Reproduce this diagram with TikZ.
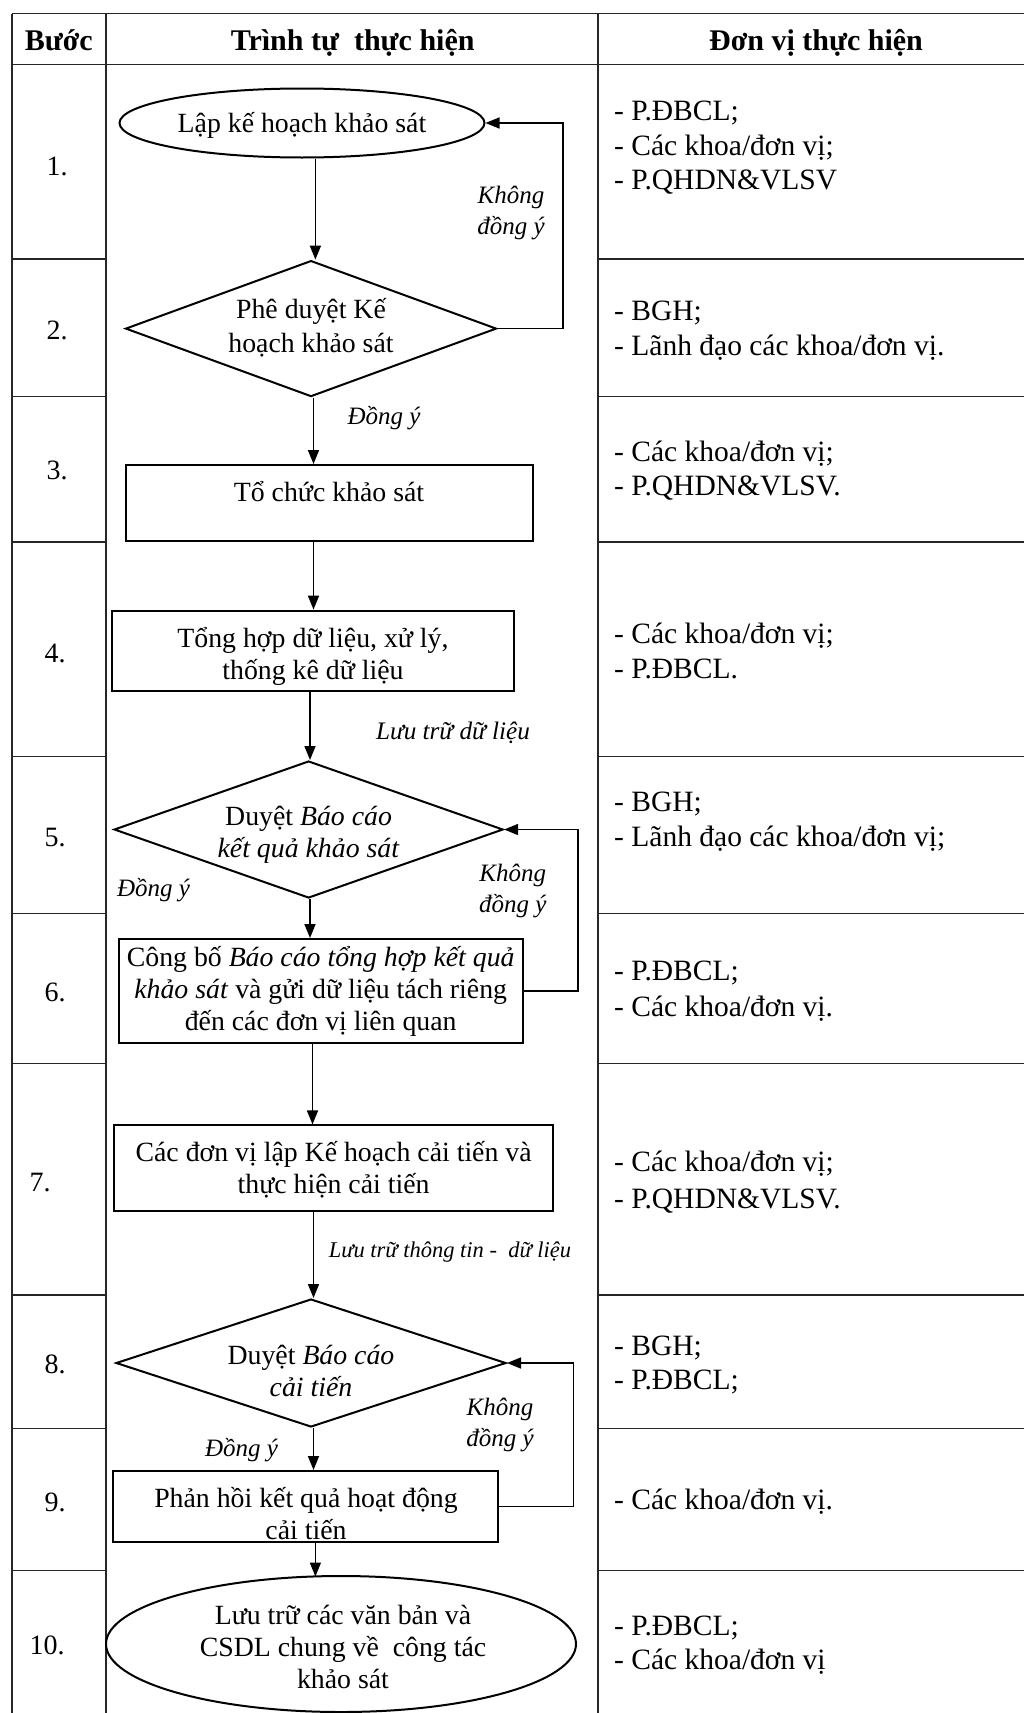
\documentclass[tikz,border=0pt]{standalone}
\usepackage{fontspec}
\setmainfont{Liberation Serif}
\usetikzlibrary{shapes.geometric,arrows.meta}
\begin{document}
\begin{tikzpicture}[x=1pt,y=-1pt,
  tbl/.style={line width=1.8pt,draw=black!85},
  shp/.style={draw,line width=2pt,inner sep=0pt},
  ell/.style={shp,ellipse},
  dia/.style={shp,diamond},
  box/.style={shp,rectangle},
  arr/.style={line width=1.6pt,-{Triangle[length=14pt,width=11pt]}},
  txt/.style={inner sep=0pt,align=center,font=\fontsize{27.8}{32}\selectfont},
  lbl/.style={inner sep=0pt,align=center,font=\fontsize{25}{31}\selectfont\itshape},
  col/.style={inner sep=0pt,anchor=base west,font=\fontsize{29.5}{32}\selectfont},
  num/.style={inner sep=0pt,anchor=base,font=\fontsize{28}{32}\selectfont},
  hdr/.style={inner sep=0pt,anchor=base,font=\fontsize{30}{32}\selectfont\bfseries}
]
\useasboundingbox (0,0) rectangle (1024,1713);
\fill[white] (0,0) rectangle (1024,1713);

% ---------- table ----------
\draw[tbl] (11.8,13.5) -- (1024,13.5);
\draw[tbl] (11.8,64.5) -- (1024,64.5);
\draw[tbl] (11.8,13.5) -- (11.8,1713);
\draw[tbl] (106,13.5) -- (106,1713);
\draw[tbl] (598,13.5) -- (598,1713);
\foreach \yy in {259,396.5,542,756.5,913.5,1063.5,1295,1428.5,1570.5}{
  \draw[tbl] (11.8,\yy) -- (106,\yy);
  \draw[tbl] (598,\yy) -- (1024,\yy);
}

% ---------- headers ----------
\node[hdr] (h1) at (58.8,50) {Bước};
\node[hdr] (h2) at (352.7,50) {Trình tự\ \ thực hiện};
\node[hdr] (h3) at (816,50) {Đơn vị thực hiện};

% ---------- step numbers ----------
\node[num] (n1) at (57,175) {1.};
\node[num] (n2) at (57,339) {2.};
\node[num] (n3) at (57,479) {3.};
\node[num] (n4) at (55,662) {4.};
\node[num] (n5) at (55,846) {5.};
\node[num] (n6) at (55,1001) {6.};
\node[num] (n7) at (40,1191) {7.};
\node[num] (n8) at (55,1373) {8.};
\node[num] (n9) at (55,1511) {9.};
\node[num] (n10) at (47,1654) {10.};

% ---------- responsible units ----------
\node[col] (c1a) at (614,120) {- P.ĐBCL;};
\node[col] (c1b) at (614,155) {- Các khoa/đơn vị;};
\node[col] (c1c) at (614,189) {- P.QHDN\&VLSV};
\node[col] (c2a) at (614,320) {- BGH;};
\node[col] (c2b) at (614,355) {- Lãnh đạo các khoa/đơn vị.};
\node[col] (c3a) at (614,461) {- Các khoa/đơn vị;};
\node[col] (c3b) at (614,495) {- P.QHDN\&VLSV.};
\node[col] (c4a) at (614,643) {- Các khoa/đơn vị;};
\node[col] (c4b) at (614,678) {- P.ĐBCL.};
\node[col] (c5a) at (614,811) {- BGH;};
\node[col] (c5b) at (614,846) {- Lãnh đạo các khoa/đơn vị;};
\node[col] (c6a) at (614,980) {- P.ĐBCL;};
\node[col] (c6b) at (614,1016) {- Các khoa/đơn vị.};
\node[col] (c7a) at (614,1171) {- Các khoa/đơn vị;};
\node[col] (c7b) at (614,1208) {- P.QHDN\&VLSV.};
\node[col] (c8a) at (614,1355) {- BGH;};
\node[col] (c8b) at (614,1389) {- P.ĐBCL;};
\node[col] (c9a) at (614,1509) {- Các khoa/đơn vị.};
\node[col] (c10a) at (614,1635) {- P.ĐBCL;};
\node[col] (c10b) at (614,1669) {- Các khoa/đơn vị};

% ---------- flow shapes ----------
\node[ell,minimum width=365pt,minimum height=69pt] (e1) at (302,123) {};
\node[txt] (t1) at (302,125) {Lập kế hoạch khảo sát};

\node[dia,minimum width=371pt,minimum height=136pt] (d2) at (311,328.6) {};
\node[txt,font=\fontsize{27.8}{34}\selectfont] (t2) at (311,328) {Phê duyệt Kế\\hoạch khảo sát};

\node[box,minimum width=407pt,minimum height=76pt] (r3) at (329,503) {};
\node[txt] (t3) at (329,492) {Tổ chức khảo sát};

\node[box,minimum width=402pt,minimum height=80pt] (r4) at (313,650.6) {};
\node[txt] (t4) at (313,656) {Tổng hợp dữ liệu, xử lý,\\thống kê dữ liệu};

\node[dia,minimum width=389pt,minimum height=137pt] (d5) at (308.6,829.5) {};
\node[txt] (t5) at (308.6,835) {Duyệt \textit{Báo cáo}\\\textit{kết quả khảo sát}};

\node[box,minimum width=403.6pt,minimum height=104pt] (r6) at (320.7,991) {};
\node[txt] (t6) at (320.7,991.5) {Công bố \textit{Báo cáo tổng hợp kết quả}\\\textit{khảo sát} và gửi dữ liệu tách riêng\\đến các đơn vị liên quan};

\node[box,minimum width=438.7pt,minimum height=85.5pt] (r7) at (333.6,1168.2) {};
\node[txt] (t7) at (333.6,1169.5) {Các đơn vị lập Kế hoạch cải tiến và\\thực hiện cải tiến};

\node[dia,minimum width=390pt,minimum height=128pt] (d8) at (311,1363) {};
\node[txt] (t8) at (311,1371) {Duyệt \textit{Báo cáo}\\\textit{cải tiến}};

\node[box,minimum width=384.6pt,minimum height=71pt] (r9) at (305.3,1506.5) {};
\node[txt] (t9) at (306,1514) {Phản hồi kết quả hoạt động\\cải tiến};

\node[ell,minimum width=470pt,minimum height=136pt] (e10) at (341,1644) {};
\node[txt] (t10) at (343,1646.5) {Lưu trữ các văn bản và\\CSDL chung về\ \ công tác\\khảo sát};

% ---------- connectors ----------
\coordinate (x1) at (315.4,0);
\draw[arr] (e1.south -| x1) -- (d2.north -| x1);
\coordinate (x2) at (313.5,0);
\draw[arr] (d2.south -| x2) -- (r3.north -| x2);
\draw[arr] (r3.south -| x2) -- (r4.north -| x2);
\coordinate (x3) at (310,0);
\draw[arr] (r4.south -| x3) -- (d5.north -| x3);
\draw[arr] (d5.south -| x3) -- (r6.north -| x3);
\coordinate (x4) at (312.5,0);
\draw[arr] (r6.south -| x4) -- (r7.north -| x4);
\coordinate (x5) at (313.5,0);
\draw[arr] (r7.south -| x5) -- (d8.north -| x5);
\draw[arr] (d8.south -| x5) -- (r9.north -| x5);
\coordinate (x6) at (315.4,1576.5);
\draw[arr] (r9.south -| x6) -- (x6);

% feedback loops
\coordinate (f1a) at (563,328.6);
\coordinate (f1b) at (563,123);
\draw[arr] (d2.east) -- (f1a) -- (f1b) -- (e1.east);
\coordinate (f2a) at (578,991);
\coordinate (f2b) at (578,829.5);
\draw[arr] (r6.east) -- (f2a) -- (f2b) -- (d5.east);
\coordinate (f3a) at (573.4,1506.5);
\coordinate (f3b) at (573.4,1363);
\draw[arr] (r9.east) -- (f3a) -- (f3b) -- (d8.east);

% ---------- labels ----------
\node[lbl] (l1) at (511,213.5) {Không\\đồng ý};
\node[lbl] (l2) at (384,418) {Đồng ý};
\node[lbl,font=\fontsize{25.2}{31}\selectfont\itshape] (l3) at (453,733) {Lưu trữ dữ liệu};
\node[lbl] (l4) at (153.5,890) {Đồng ý};
\node[lbl] (l5) at (512.7,891) {Không\\đồng ý};
\node[lbl,font=\fontsize{22.5}{31}\selectfont\itshape] (l6) at (450,1252) {Lưu trữ thông tin -\ \ dữ liệu};
\node[lbl] (l7) at (500,1424.6) {Không\\đồng ý};
\node[lbl] (l8) at (241.6,1449.7) {Đồng ý};
\end{tikzpicture}
\end{document}
